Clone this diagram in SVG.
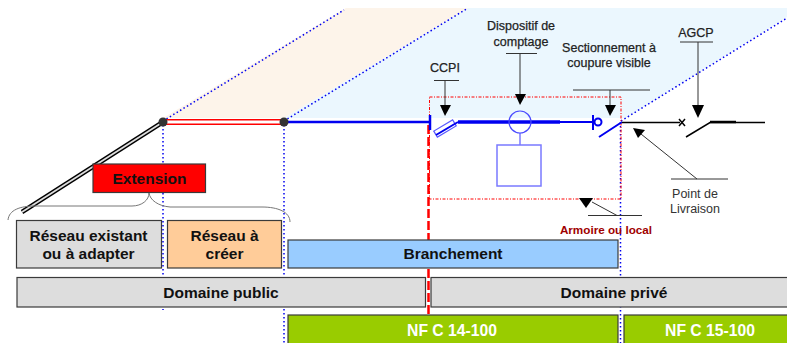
<svg xmlns="http://www.w3.org/2000/svg" width="787" height="343" viewBox="0 0 787 343">
<style>
text{font-family:"Liberation Sans",Arial,sans-serif;text-anchor:middle}
.box{stroke:#3a3a3a;stroke-width:1.2}
.lb{font-size:15.500px;font-weight:bold;fill:#111}
.sm{font-size:12.500px;fill:#222;stroke:#222;stroke-width:.25}
.nf{font-size:15.700px;font-weight:bold;fill:#fff}
.dot{fill:none;stroke:#0000f0;stroke-width:1.5;stroke-dasharray:1.5 2.5}
.red{fill:none;stroke:#f00;stroke-width:1;stroke-dasharray:3 1.5 1 1.5}
.lead{fill:none;stroke:#333;stroke-width:1}
.bl{fill:none;stroke:#0000f0}
.bx{fill:none;stroke:#7a7aff;stroke-width:1.5}
</style>
<rect width="787" height="343" fill="#fff"/>
<g id="bands">
<polygon points="163,118 346,8 468,8 284,118" fill="#fdf4ea"/>
<polygon points="284,118 468,8 787,8 787,17 626,118" fill="#ebf7fe"/>
</g>
<g id="connectors">
<path class="dot" d="M163,121L344,10M284,121L468,8M621,121L787,18M163,125V310M284,125V343M620.500,122V343"/>
<path class="red" d="M429.500,97H621V199H429.500Z"/>
<path d="M428.500,125V315" fill="none" stroke="#f00" stroke-width="2.500" stroke-dasharray="9 3"/>
<path d="M22,212L163,122" stroke="#000" stroke-width="4.500" fill="none"/>
<path d="M22,212L163,122" stroke="#ddd" stroke-width="1.800" fill="none"/>
<path d="M163,122H284" stroke="#f00" stroke-width="6" fill="none"/>
<path d="M163,122H284" stroke="#fff" stroke-width="3" fill="none"/>
<path d="M8,220C9,210 20,206 35,206H132C142,206 149,200 149,193C150,200 158,206 170,207H262C278,207 290,212 290,222" fill="none" stroke="#777" stroke-width="1"/>
<path class="bl" stroke-width="2.500" d="M284,122H430"/>
<path class="bl" stroke-width="2.500" d="M430,115V130"/>
<path class="bl" stroke-width="3.500" d="M458,122H560"/>
<path class="bl" stroke-width="2" d="M560,122H593M593,115V130M599,137L622,122"/>
<path class="bx" d="M520,133V145"/>
<path d="M622,122.500H680M686,137L710,122.500H765" fill="none" stroke="#000" stroke-width="1.500"/>
<path d="M710,122H736" fill="none" stroke="#000" stroke-width="2.500"/>
<path d="M679,119L685,126M685,119L679,126" stroke="#000" stroke-width="1.500" fill="none"/>
<path class="lead" d="M434,80.500H459M445,80V106M506,53.500H537M520,54V95M573,90H650M610,90V106M680,42H713M698,42V106M671,179H728M641,134L697,179M588,215.500H642M592,202L617,215.500"/>
<g fill="#000">
<polygon points="440,105 451,105 445,116"/>
<polygon points="515,94 526,94 520,105"/>
<polygon points="605,105 616,105 610,116"/>
<polygon points="692,105 704,105 698,118"/>
<polygon points="633,128 645,130 638,138"/>
<polygon points="579,198 593,198 586,208"/>
</g>
</g>
<g id="node-a"><circle cx="163" cy="122" r="4.500" fill="#333"/></g>
<g id="node-b"><circle cx="284" cy="122" r="4.500" fill="#333"/></g>
<g id="ccpi">
<rect x="434" y="125" width="22" height="7" transform="rotate(-31 445 128.500)" fill="#fff" stroke="#5a5aff" stroke-width="1.200"/>
<path class="bl" stroke-width="2" d="M436,135L458,122"/>
<text class="sm" x="445" y="72">CCPI</text>
</g>
<g id="compteur">
<circle cx="520" cy="122" r="11" fill="none" stroke="#4a4aff" stroke-width="1.200"/>
<rect class="bx" x="497" y="145" width="44" height="41"/>
<text class="sm" x="521" y="30">Dispositif de</text>
<text class="sm" x="521" y="46">comptage</text>
</g>
<g id="sectionnement">
<circle cx="598" cy="122" r="3.500" fill="#fff" stroke="#0000f0" stroke-width="2"/>
<text class="sm" x="609" y="52">Sectionnement à</text>
<text class="sm" x="609" y="67">coupure visible</text>
</g>
<g id="agcp"><text class="sm" x="696" y="37">AGCP</text></g>
<g id="point"><text x="695" y="198" font-size="12.500" fill="#333">Point de</text><text x="695" y="213" font-size="12.500" fill="#333">Livraison</text></g>
<g id="armoire"><text x="606" y="234" font-size="11.700" font-weight="bold" fill="#a00000">Armoire ou local</text></g>
<g id="extension"><rect class="box" x="93" y="164" width="112.500" height="28.500" fill="#f00"/><text class="lb" x="149.500" y="184">Extension</text></g>
<g id="reseau-existant"><rect class="box" x="16.500" y="220.500" width="145" height="47.500" fill="#ddd"/><text class="lb" x="88.500" y="241">Réseau existant</text><text class="lb" x="88.500" y="259">ou à adapter</text></g>
<g id="reseau-creer"><rect class="box" x="167.500" y="220.500" width="114" height="47.500" fill="#fc9"/><text class="lb" x="224.500" y="241">Réseau à</text><text class="lb" x="224.500" y="259">créer</text></g>
<g id="branchement"><rect class="box" x="288" y="240" width="330" height="28" fill="#9cf"/><text class="lb" x="453" y="259">Branchement</text></g>
<g id="domaine-public"><rect class="box" x="17" y="277.500" width="408.500" height="29.500" fill="#ddd"/><text class="lb" x="221" y="298">Domaine public</text></g>
<g id="domaine-prive"><rect class="box" x="431" y="277.500" width="357" height="29.500" fill="#ddd"/><text class="lb" x="614" y="298">Domaine privé</text></g>
<g id="nf14"><rect class="box" x="288" y="315" width="330" height="29" fill="#9c0"/><text class="nf" x="452" y="336">NF C 14-100</text></g>
<g id="nf15"><rect class="box" x="624" y="315" width="164" height="29" fill="#9c0"/><text class="nf" x="710" y="336">NF C 15-100</text></g>
</svg>
